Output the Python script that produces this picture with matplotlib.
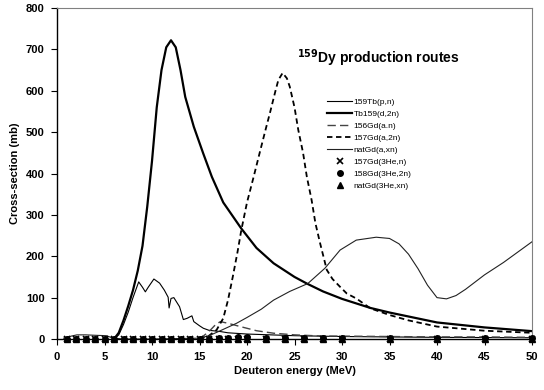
import matplotlib.pyplot as plt
import numpy as np

plt.rcParams['font.family'] = ['Liberation Sans', 'DejaVu Sans']

# 159Tb(p,n)
tb_pn_e = [6, 6.5, 7, 7.5, 8, 8.6, 9.0, 9.3, 9.6, 10.2, 10.8, 11.3, 11.7, 11.8, 12.0, 12.3,
           12.9, 13.3, 13.7, 14.2, 14.4, 15.0, 15.4, 16, 17.2, 18, 20, 25, 30, 40, 50]
tb_pn_s = [0, 10, 35, 65, 100, 138, 125, 114, 125, 145, 135, 118, 101, 75, 98, 100,
           78, 47, 50, 56, 42, 32, 26, 21, 18, 15, 12, 8, 6, 4, 3]

# Tb159(d,2n)
tb_d2n_e = [6, 6.5, 7, 7.5, 8, 8.5, 9, 9.5, 10, 10.5, 11, 11.5, 12, 12.5, 13, 13.5, 14.4,
            15.4, 16.3, 17.5, 19.4, 21, 22.8, 25, 26.3, 28, 30, 33, 35, 40, 45, 50]
tb_d2n_s = [0, 15, 45, 80, 118, 165, 225, 320, 430, 560, 650, 705, 722, 705, 650, 585, 513,
            448, 392, 330, 267, 220, 183, 150, 134, 115, 97, 75, 64, 40, 28, 19]

# 156Gd(a.n)
gd156_e = [15, 16, 16.7, 17.2, 18, 19.3, 21, 22.8, 25, 28, 30, 35, 40, 45, 50]
gd156_s = [0, 18, 35, 42, 38, 30, 20, 14, 10, 7, 7, 6, 5, 5, 4]

# 157Gd(a,2n)
gd157_e = [15, 16, 16.8, 17.5, 18, 18.5, 19, 19.4, 20, 20.7, 21.4, 22, 22.4, 23, 23.3, 23.75,
           24.2, 24.5, 25, 25.4, 25.9, 26.3, 26.8, 27.2, 27.7, 28.4, 29, 29.8, 30.5, 31.5,
           33, 35, 37, 40, 45, 50]
gd157_s = [0, 8, 22, 50, 94, 150, 210, 263, 330, 392, 456, 510, 545, 600, 626, 643,
           630, 610, 560, 505, 450, 392, 336, 280, 231, 167, 145, 126, 110, 98,
           74, 58, 45, 30, 20, 15]

# natGd(a,xn)
natgd_e = [0.7, 1.5, 2.1, 3, 4, 5.2, 5.9, 7, 10, 15, 16, 17, 18.9, 20, 21.5, 22.8, 24.5,
           26.4, 28.2, 29.8, 31.5, 33.6, 35, 36, 37, 38, 39, 40, 41, 42, 43, 45, 47, 50]
natgd_s = [2, 7, 10, 10, 9, 8, 2, 0, 0, 2, 8, 18, 38, 52, 72, 94, 115,
           134, 171, 215, 239, 246, 243, 230, 205, 170, 130, 100, 97, 105, 120, 155, 185, 235]

# 3He reactions
he_e = [1, 2, 3, 4, 5, 6, 7, 8, 9, 10, 11, 12, 13, 14, 15, 16, 17, 18, 19, 20,
        22, 24, 26, 28, 30, 35, 40, 45, 50]
gd157_3he_n = [0, 0, 0, 0, 0, 0, 0, 0, 0, 0, 0, 0, 0, 0, 0, 0, 0, 0, 0, 0,
               0, 0, 0, 0, 0, 0, 0, 0, 0]
gd158_3he_2n = [0, 0, 0, 0, 0, 0, 0, 0, 0, 0, 0, 0, 0, 0, 1, 1, 2, 3, 4, 4,
                3, 3, 3, 3, 3, 2, 2, 2, 2]
natgd_3he_xn = [0, 0, 0, 0, 0, 0, 0, 0, 0, 0, 0, 0, 0, 0, 0, 0, 1, 1, 1, 1,
                1, 1, 1, 1, 1, 1, 1, 1, 1]

fig = plt.figure(figsize=(5.44, 3.9), dpi=100)
ax = fig.add_axes([57/544, 51/390, 475/544, 331/390])

ax.plot(tb_pn_e, tb_pn_s, color='k', lw=0.8, label='159Tb(p,n)')
ax.plot(tb_d2n_e, tb_d2n_s, color='k', lw=1.6, label='Tb159(d,2n)')
ax.plot(gd156_e, gd156_s, color='#444444', lw=1.0, dashes=(6, 3), label='156Gd(a.n)')
ax.plot(gd157_e, gd157_s, color='k', lw=1.3, dashes=(3, 2), label='157Gd(a,2n)')
ax.plot(natgd_e, natgd_s, color='#222222', lw=0.8, label='natGd(a,xn)')
ax.plot(he_e, gd157_3he_n, ls='none', marker='x', ms=4, mew=1.2, color='k',
        clip_on=False, zorder=5, label='157Gd(3He,n)')
ax.plot(he_e, gd158_3he_2n, ls='none', marker='o', ms=4, color='k',
        clip_on=False, zorder=5, label='158Gd(3He,2n)')
ax.plot(he_e, natgd_3he_xn, ls='none', marker='^', ms=4, color='k',
        clip_on=False, zorder=5, label='natGd(3He,xn)')

ax.set_xlim(0, 50)
ax.set_ylim(0, 800)
ax.set_xticks(np.arange(0, 51, 5))
ax.set_yticks(np.arange(0, 801, 100))
ax.tick_params(direction='out', length=4, width=0.8, labelsize=8, pad=5)
for lab in ax.get_xticklabels() + ax.get_yticklabels():
    lab.set_fontweight('bold')
ax.spines['top'].set_color('#808080')
ax.spines['right'].set_color('#808080')
ax.spines['left'].set_linewidth(1.0)
ax.spines['bottom'].set_linewidth(1.0)

ax.set_xlabel('Deuteron energy (MeV)', fontsize=8, fontweight='bold', labelpad=3)
ax.set_ylabel('Cross-section (mb)', fontsize=8, fontweight='bold', labelpad=4)

ax.text(0.505, 0.835, r'$^{\mathbf{159}}$Dy production routes', transform=ax.transAxes,
        fontsize=10, fontweight='bold')

leg = ax.legend(loc='upper left', bbox_to_anchor=(0.56, 0.74), frameon=False, fontsize=6,
                handlelength=3, handletextpad=0.2, labelspacing=0.5, borderpad=0)

fig.savefig('out.png', dpi=100)
